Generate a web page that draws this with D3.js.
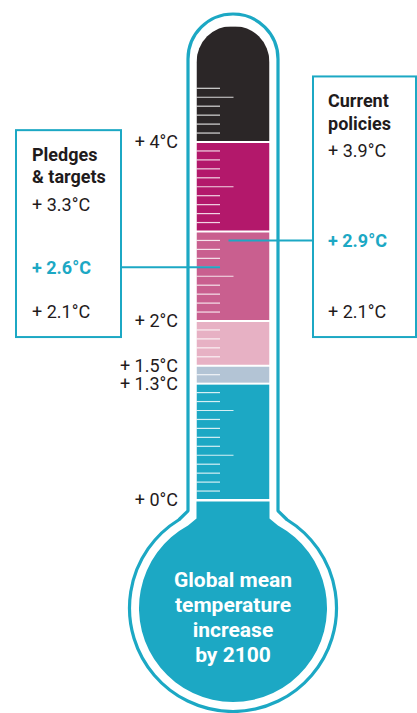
<!DOCTYPE html>
<html>
<head>
<meta charset="utf-8">
<script src="https://cdn.jsdelivr.net/npm/d3@7"></script>
<style>
  html, body { margin: 0; padding: 0; background: #fff; }
  svg { display: block; font-family: Roboto, "Noto Sans", sans-serif; }
</style>
</head>
<body>
<div id="chart"></div>
<script>
// Temperature bands along the thermometer (°C edges)
const bandEdges = [0, 1.3, 1.5, 2, 3, 4, 5.3];
const bandColors = ['#1ca8c4', '#b3c4d5', '#e7b1c4', '#c95f8f', '#b3186b', '#2b2627'];

// Labels to the left of the tube
const scaleLabels = [0, 1.3, 1.5, 2, 4];

// Scenario boxes
const pledgesTitle = ['Pledges', '& targets'];
const pledgesValues = [3.3, 2.6, 2.1];
const pledgesMain = 2.6;

const policiesTitle = ['Current', 'policies'];
const policiesValues = [3.9, 2.9, 2.1];
const policiesMain = 2.9;

const bulbText = ['Global mean', 'temperature', 'increase', 'by 2100'];

const teal = '#1ca8c4';
const ink = '#1f1b1c';

const width = 417, height = 713;
const cx = 233;

const svg = d3.select('#chart').append('svg')
    .attr('width', width)
    .attr('height', height);

const y = d3.scaleLinear().domain([0, 4]).range([500, 142]);
const color = d3.scaleOrdinal().domain(d3.range(bandColors.length)).range(bandColors);
const fmt = v => '+ ' + (Number.isInteger(v) ? v : v.toFixed(1)) + '°C';

// ---- outer outline (tube + bulb) ----
const tubeR = 45, tubeTop = 59;
const bulbCy = 608, bulbR = 103.5;
const joinDy = Math.sqrt(bulbR * bulbR - tubeR * tubeR);
const aRight = Math.atan2(-joinDy, tubeR) + 0.1;
const aLeft = Math.atan2(-joinDy, -tubeR) - 0.1 + 2 * Math.PI;

const outline = d3.path();
outline.moveTo(cx - tubeR, bulbCy - joinDy - 4);
outline.lineTo(cx - tubeR, tubeTop);
outline.arc(cx, tubeTop, tubeR, Math.PI, 2 * Math.PI);
outline.lineTo(cx + tubeR, bulbCy - joinDy - 4);
outline.lineTo(cx + bulbR * Math.cos(aRight), bulbCy + bulbR * Math.sin(aRight));
outline.arc(cx, bulbCy, bulbR, aRight, aLeft);
outline.closePath();

svg.append('path')
    .attr('d', outline.toString())
    .attr('fill', '#fff')
    .attr('stroke', teal)
    .attr('stroke-width', 3.2)
    .attr('stroke-linejoin', 'round');

// ---- inner column ----
const colR = 36.5, colLeft = cx - colR;
const colTop = y(bandEdges[bandEdges.length - 1]);

const clip = d3.path();
clip.moveTo(colLeft, y(0));
clip.lineTo(colLeft, colTop + colR);
clip.arc(cx, colTop + colR, colR, Math.PI, 2 * Math.PI);
clip.lineTo(cx + colR, y(0));
clip.closePath();

svg.append('clipPath').attr('id', 'col-clip')
    .append('path').attr('d', clip.toString());

const bands = d3.pairs(bandEdges);
svg.append('g')
    .attr('clip-path', 'url(#col-clip)')
    .selectAll('rect')
    .data(bands)
    .join('rect')
    .attr('x', colLeft)
    .attr('width', colR * 2)
    .attr('y', d => y(d[1]) + 1)
    .attr('height', d => y(d[0]) - y(d[1]) - 2)
    .attr('fill', (d, i) => color(i));

// ---- bulb fill ----
const innerR = 94;
const innerDy = Math.sqrt(innerR * innerR - colR * colR);
const bRight = Math.atan2(-innerDy, colR) + 0.1;
const bLeft = Math.atan2(-innerDy, -colR) - 0.1 + 2 * Math.PI;
const bulb = d3.path();
bulb.moveTo(colLeft, y(0) + 1.5);
bulb.lineTo(cx + colR, y(0) + 1.5);
bulb.lineTo(cx + colR, bulbCy - innerDy - 3);
bulb.lineTo(cx + innerR * Math.cos(bRight), bulbCy + innerR * Math.sin(bRight));
bulb.arc(cx, bulbCy, innerR, bRight, bLeft);
bulb.lineTo(colLeft, bulbCy - innerDy - 3);
bulb.closePath();

svg.append('path')
    .attr('d', bulb.toString())
    .attr('fill', bandColors[0]);

// ---- tick marks every 0.1°C ----
const tickVals = d3.ticks(0, 4.6, 46)
    .filter(v => v > 0 && !bandEdges.some(e => Math.abs(e - v) < 1e-6));

svg.append('g')
    .selectAll('line')
    .data(tickVals)
    .join('line')
    .attr('x1', colLeft)
    .attr('x2', d => colLeft + (Math.round(d * 10) % 5 === 0 ? 37 : 23.5))
    .attr('y1', d => y(d))
    .attr('y2', d => y(d))
    .attr('stroke', '#fff')
    .attr('stroke-opacity', 0.82)
    .attr('stroke-width', 1.2);

// ---- scale labels ----
svg.append('g')
    .selectAll('text')
    .data(scaleLabels)
    .join('text')
    .attr('x', 178)
    .attr('y', d => y(d))
    .attr('dy', '0.35em')
    .attr('text-anchor', 'end')
    .attr('font-size', 18)
    .attr('fill', ink)
    .text(fmt);

// ---- scenario boxes ----
function scenarioBox(opts) {
    const g = svg.append('g');
    const first = y(opts.values[0]);
    const top = first - 74.5;
    const bottom = y(d3.min(opts.values)) + 25;

    // connector
    g.append('line')
        .attr('x1', opts.lineFrom)
        .attr('x2', opts.lineTo)
        .attr('y1', y(opts.main))
        .attr('y2', y(opts.main))
        .attr('stroke', teal)
        .attr('stroke-width', 2);

    g.append('rect')
        .attr('x', opts.boxX)
        .attr('y', top)
        .attr('width', opts.boxW)
        .attr('height', bottom - top)
        .attr('fill', '#fff')
        .attr('stroke', teal)
        .attr('stroke-width', 2);

    g.selectAll('text.title')
        .data(opts.title)
        .join('text')
        .attr('class', 'title')
        .attr('x', opts.textX)
        .attr('y', (d, i) => first - 44 + i * 22.7)
        .attr('font-size', 18)
        .attr('font-weight', 700)
        .attr('fill', ink)
        .text(d => d);

    g.selectAll('text.value')
        .data(opts.values)
        .join('text')
        .attr('class', 'value')
        .attr('x', opts.textX)
        .attr('y', d => y(d))
        .attr('dy', '0.35em')
        .attr('font-size', 18)
        .attr('font-weight', d => d === opts.main ? 700 : 400)
        .attr('fill', d => d === opts.main ? teal : ink)
        .text(fmt);
}

scenarioBox({
    title: pledgesTitle, values: pledgesValues, main: pledgesMain,
    boxX: 16, boxW: 105, textX: 32, lineFrom: 121, lineTo: colLeft + 23.5
});

scenarioBox({
    title: policiesTitle, values: policiesValues, main: policiesMain,
    boxX: 313, boxW: 103, textX: 328, lineFrom: colLeft + 32, lineTo: 313
});

// ---- bulb caption ----
svg.append('g')
    .selectAll('text')
    .data(bulbText)
    .join('text')
    .attr('x', cx)
    .attr('y', (d, i) => 587 + i * 25)
    .attr('text-anchor', 'middle')
    .attr('font-size', 21)
    .attr('font-weight', 700)
    .attr('fill', '#fff')
    .text(d => d);
</script>
</body>
</html>
